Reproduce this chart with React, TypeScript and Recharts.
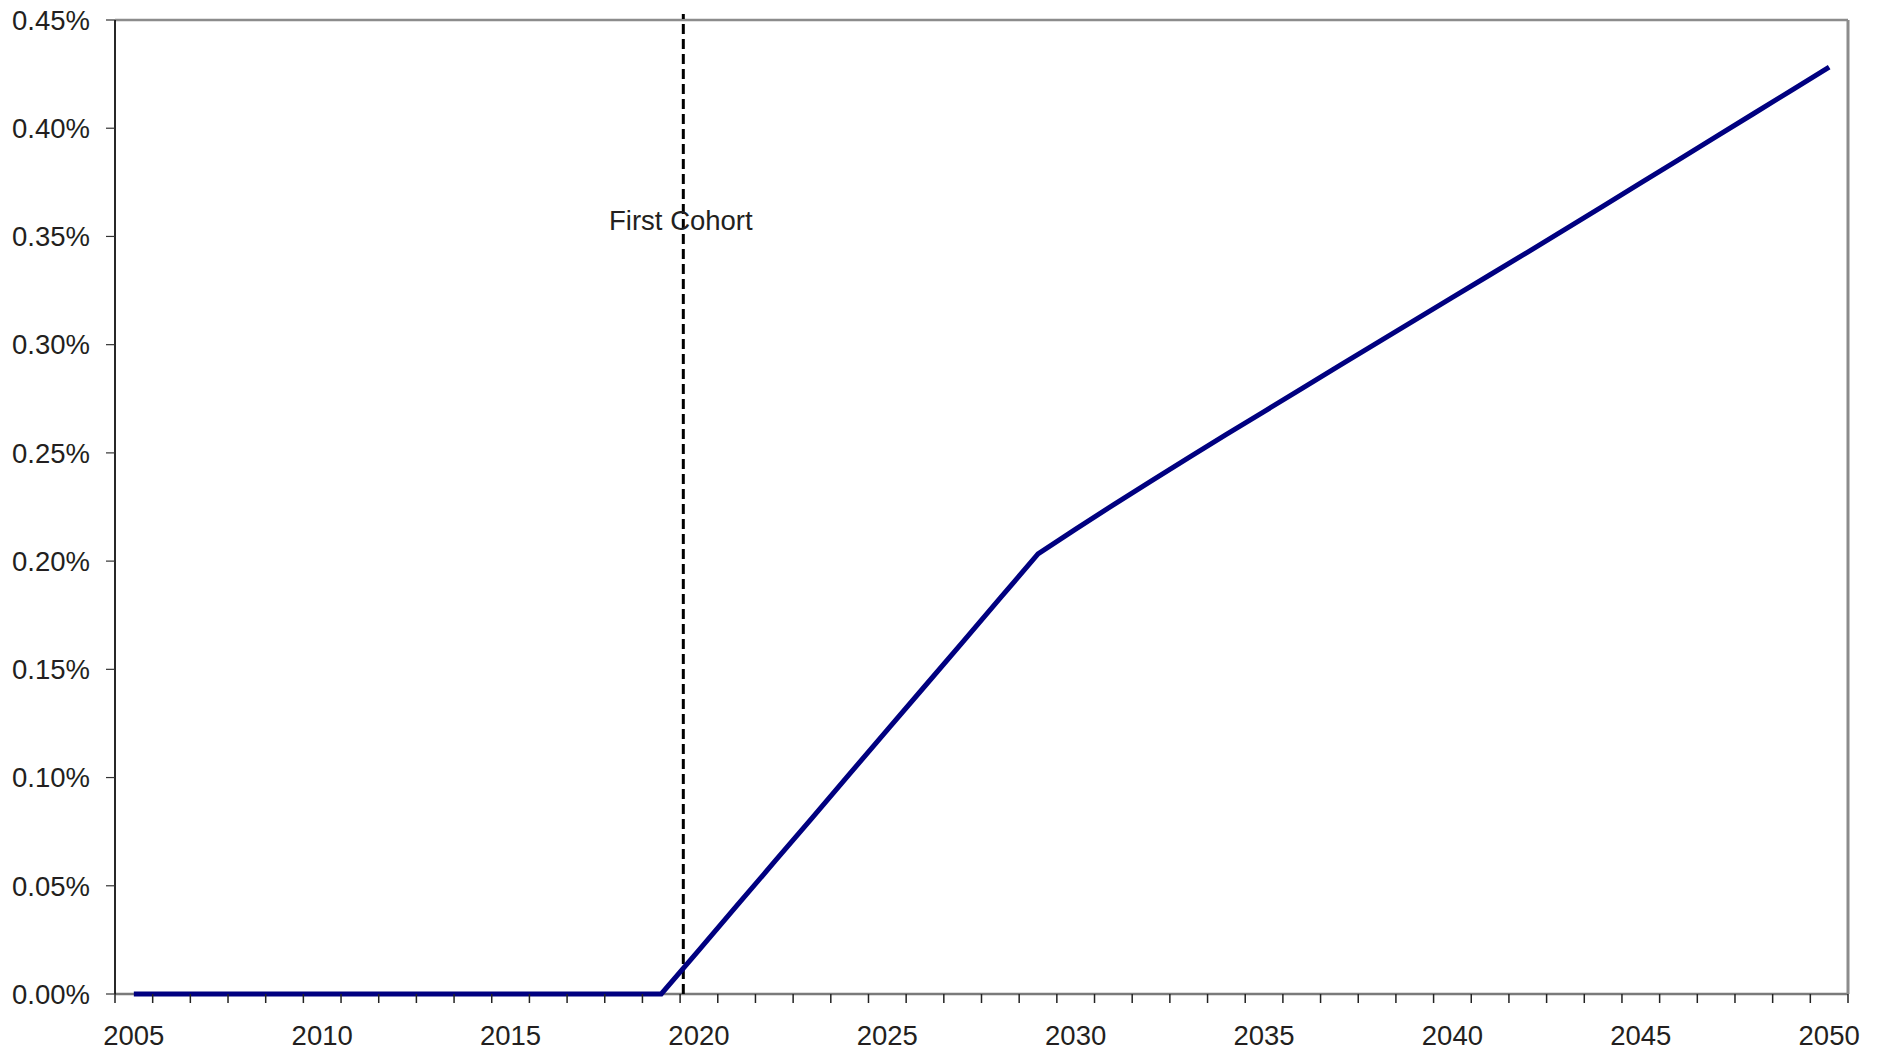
import React from 'react';
import { LineChart, Line, XAxis, YAxis, ReferenceLine, ReferenceDot } from 'recharts';

const years = [
  2005, 2006, 2007, 2008, 2009, 2010, 2011, 2012, 2013, 2014,
  2015, 2016, 2017, 2018, 2019, 2020, 2021, 2022, 2023, 2024,
  2025, 2026, 2027, 2028, 2029, 2030, 2031, 2032, 2033, 2034,
  2035, 2036, 2037, 2038, 2039, 2040, 2041, 2042, 2043, 2044,
  2045, 2046, 2047, 2048, 2049, 2050,
];

// percent values
const values = [
  0, 0, 0, 0, 0, 0, 0, 0, 0, 0,
  0, 0, 0, 0, 0, 0.0203, 0.0407, 0.061, 0.0813, 0.1017,
  0.122, 0.1423, 0.1626, 0.183, 0.2033, 0.2148, 0.226, 0.237, 0.2478, 0.2585,
  0.2691, 0.2797, 0.2903, 0.3008, 0.3113, 0.3218, 0.3323, 0.3428, 0.3534, 0.364,
  0.3747, 0.3854, 0.3961, 0.4068, 0.4175, 0.4282,
];

const yTicks = [0, 0.05, 0.1, 0.15, 0.2, 0.25, 0.3, 0.35, 0.4, 0.45];
const xLabelTicks = [2005, 2010, 2015, 2020, 2025, 2030, 2035, 2040, 2045, 2050];
const cohortYear = 2019.585;
const cohortLabel = 'First Cohort';

const data = years.map((year, i) => ({ year, value: values[i] }));
const xTickMarks = [...years.map((y) => y - 0.5), years[years.length - 1] + 0.5];
const xMin = years[0] - 0.5;
const xMax = years[years.length - 1] + 0.5;
const xDomain = [xMin, xMax];

const FONT = 'Liberation Sans, Arial, Helvetica, sans-serif';
const TEXT = '#231f20';

export default function App() {
  return (
    <div style={{ position: 'absolute', left: 0, top: 0, background: '#fff' }}>
      <LineChart
        width={1885}
        height={1054}
        data={data}
        margin={{ top: 20, right: 37, bottom: 0, left: 0 }}
        style={{ fontFamily: FONT }}
      >
        <XAxis
          xAxisId="a"
          dataKey="year"
          type="number"
          domain={xDomain}
          ticks={xTickMarks}
          interval={0}
          height={9}
          tickSize={9}
          tickFormatter={() => ''}
          axisLine={false}
          tickLine={{ stroke: '#222', strokeWidth: 1.5 }}
        />
        <XAxis
          xAxisId="b"
          dataKey="year"
          type="number"
          domain={xDomain}
          ticks={xLabelTicks}
          interval={0}
          height={51}
          tickSize={0}
          tickMargin={22}
          axisLine={false}
          tickLine={false}
          tick={{ fill: TEXT, fontSize: 27.5, fontFamily: FONT }}
        />
        <YAxis
          yAxisId="left"
          type="number"
          domain={[0, 0.45]}
          ticks={yTicks}
          interval={0}
          width={115}
          tickSize={9}
          tickMargin={16}
          tickFormatter={(v: number) => v.toFixed(2) + '%'}
          axisLine={{ stroke: '#111', strokeWidth: 1.8 }}
          tickLine={{ stroke: '#333', strokeWidth: 1.2 }}
          tick={{ fill: TEXT, fontSize: 27.5, fontFamily: FONT }}
        />
        <ReferenceLine
          xAxisId="a"
          yAxisId="left"
          y={0}
          ifOverflow="visible"
          stroke="#7a7a7a"
          strokeWidth={2.5}
        />
        <ReferenceLine
          xAxisId="a"
          yAxisId="left"
          y={0.45}
          ifOverflow="visible"
          stroke="#8c8c8c"
          strokeWidth={2.5}
        />
        <ReferenceLine
          xAxisId="a"
          yAxisId="left"
          x={xMax}
          ifOverflow="visible"
          stroke="#8c8c8c"
          strokeWidth={3}
        />
        <ReferenceLine
          xAxisId="a"
          yAxisId="left"
          segment={[
            { x: cohortYear, y: 0 },
            { x: cohortYear, y: 0.4528 },
          ]}
          ifOverflow="visible"
          stroke="#000"
          strokeWidth={3}
          strokeDasharray="10 5"
        />
        <ReferenceDot
          xAxisId="a"
          yAxisId="left"
          x={2019.52}
          y={0.3576}
          r={0}
          fill="none"
          stroke="none"
          ifOverflow="visible"
          label={{ value: cohortLabel, position: 'center', fill: TEXT, fontSize: 27.5, fontFamily: FONT }}
        />
        <Line
          xAxisId="a"
          yAxisId="left"
          type="linear"
          dataKey="value"
          stroke="#000080"
          strokeWidth={5}
          dot={false}
          activeDot={false}
          isAnimationActive={false}
        />
      </LineChart>
    </div>
  );
}
